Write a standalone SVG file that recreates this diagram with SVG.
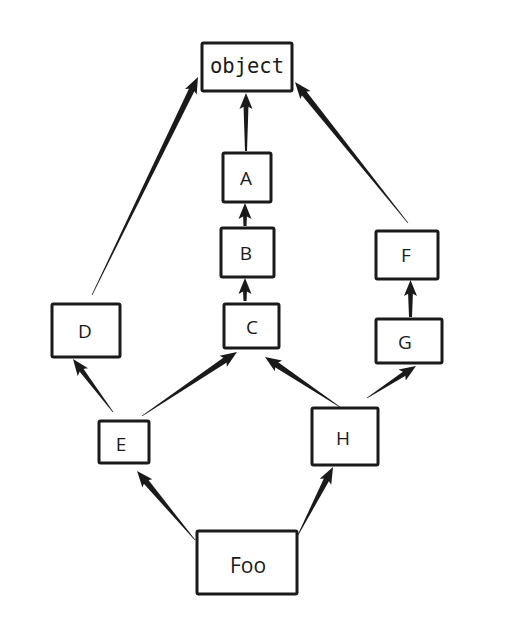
<svg xmlns="http://www.w3.org/2000/svg" width="523" height="631" viewBox="0 0 523 631">
<defs>
<style>
.box{fill:#fff;stroke:#1a1a1a;stroke-width:3}
.lbl{font-family:"Open Sans","DejaVu Sans",sans-serif;font-size:19px;fill:#1a1a1a;text-anchor:middle;dominant-baseline:central}
.mono{font-family:"DejaVu Sans Mono","Liberation Mono",monospace;font-size:20.5px}
.edge{fill:#1a1a1a}
</style>
</defs>
<rect width="523" height="631" fill="#fff"/>
<g id="connectors" class="edge">
<g transform="translate(92,295) rotate(-64.07)"><polygon points="0,-0.3 230,-3 230,3 0,0.3"/><polygon points="242.4,0 226,-6.5 229.5,0 226,6.5"/></g>
<g transform="translate(246,151) rotate(-90)"><polygon points="0,-1 46,-2.5 46,2.5 0,1"/><polygon points="58,0 42,-6.5 45.5,0 42,6.5"/></g>
<g transform="translate(408,223) rotate(-128.71)"><polygon points="0,-0.3 168,-3 168,3 0,0.3"/><polygon points="180.7,0 164,-6.5 167.5,0 164,6.5"/></g>
<g transform="translate(245,226) rotate(-90)"><polygon points="0,-1.5 12,-2 12,2 0,1.5"/><polygon points="23,0 7,-6.5 10.5,0 7,6.5"/></g>
<g transform="translate(245,301) rotate(-90)"><polygon points="0,-1.5 12,-2 12,2 0,1.5"/><polygon points="23,0 7,-6.5 10.5,0 7,6.5"/></g>
<g transform="translate(410.5,317) rotate(-90)"><polygon points="0,-1.5 26,-2.5 26,2.5 0,1.5"/><polygon points="37,0 21,-6.5 24.5,0 21,6.5"/></g>
<g transform="translate(113,412) rotate(-127.04)"><polygon points="0,-0.3 55,-2.5 55,2.5 0,0.3"/><polygon points="66.4,0 50,-6.5 53.5,0 50,6.5"/></g>
<g transform="translate(142,416) rotate(-33.97)"><polygon points="0,-0.3 103,-3 103,3 0,0.3"/><polygon points="114.5,0 98,-6.5 101.5,0 98,6.5"/></g>
<g transform="translate(340,407) rotate(-146.31)"><polygon points="0,-0.3 78,-3 78,3 0,0.3"/><polygon points="90.1,0 74,-6.5 77.5,0 74,6.5"/></g>
<g transform="translate(367,398) rotate(-33.15)"><polygon points="0,-0.3 47,-2.5 47,2.5 0,0.3"/><polygon points="58.5,0 42,-6.5 45.5,0 42,6.5"/></g>
<g transform="translate(195,540) rotate(-130.05)"><polygon points="0,-0.3 78,-3 78,3 0,0.3"/><polygon points="90.1,0 74,-6.5 77.5,0 74,6.5"/></g>
<g transform="translate(298,535) rotate(-62.76)"><polygon points="0,-0.3 65,-3 65,3 0,0.3"/><polygon points="76.5,0 60,-6.5 63.5,0 60,6.5"/></g>
</g>
<g id="node-object"><rect class="box" x="202" y="43" width="90" height="48" rx="1.5"/><text class="lbl mono" x="247" y="66">object</text></g>
<g id="node-A"><rect class="box" x="223" y="153" width="48" height="49" rx="1.5"/><text class="lbl" x="246" y="178">A</text></g>
<g id="node-B"><rect class="box" x="221" y="228" width="53" height="49" rx="1.5"/><text class="lbl" x="246" y="253">B</text></g>
<g id="node-C"><rect class="box" x="224" y="304" width="55" height="44" rx="1.5"/><text class="lbl" x="252" y="327">C</text></g>
<g id="node-D"><rect class="box" x="52" y="304" width="68" height="53" rx="1.5"/><text class="lbl" x="85" y="331">D</text></g>
<g id="node-E"><rect class="box" x="99" y="421" width="50" height="42" rx="1.5"/><text class="lbl" x="121" y="444">E</text></g>
<g id="node-F"><rect class="box" x="376" y="231" width="62" height="48" rx="1.5"/><text class="lbl" x="406" y="255">F</text></g>
<g id="node-G"><rect class="box" x="376" y="319" width="66" height="44" rx="1.5"/><text class="lbl" x="405" y="342">G</text></g>
<g id="node-H"><rect class="box" x="312" y="408" width="66" height="57" rx="1.5"/><text class="lbl" x="343" y="438">H</text></g>
<g id="node-Foo"><rect class="box" x="197" y="531" width="100" height="63" rx="1.5"/><text class="lbl" x="248" y="565" style="font-size:21px">Foo</text></g>
</svg>
